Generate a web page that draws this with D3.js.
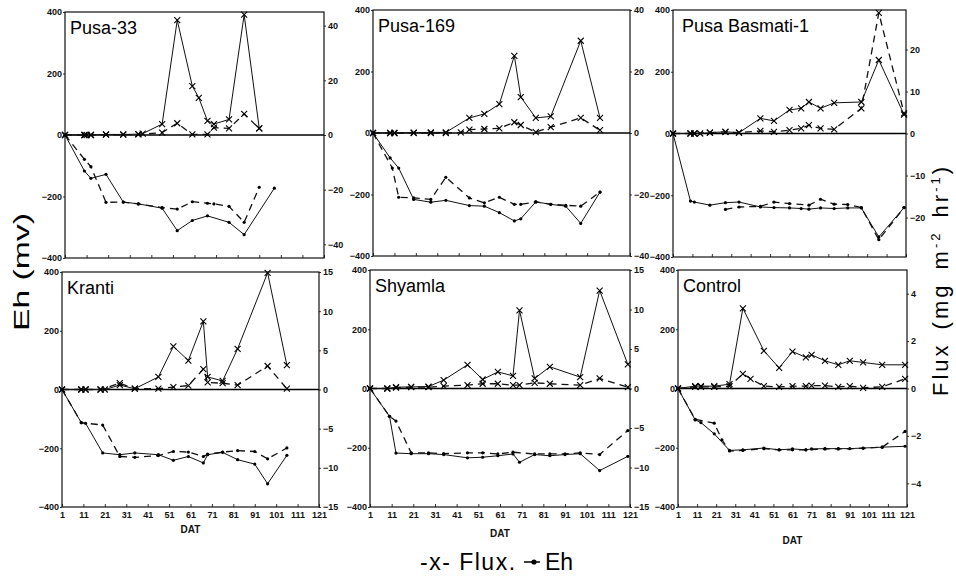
<!DOCTYPE html>
<html>
<head>
<meta charset="utf-8">
<style>
    body { margin: 0; background: #fff; }
    svg { font-family: "Liberation Sans", Arial, Helvetica, sans-serif; }
    .axis .domain { display: none; }
    .axis text { font-size: 9px; font-weight: bold; fill: #111; }
    .axis line { stroke: #333; }
    .frame { fill: none; stroke: #111; stroke-width: 1.2; }
    .title { font-size: 18px; fill: #000; }
    .dat { font-size: 10px; font-weight: bold; fill: #111; }
    .big { font-size: 22px; fill: #000; }
</style>
</head>
<body>
<svg width="956" height="578"></svg>

<script src="https://d3js.org/d3.v7.min.js"></script>
<script>
// tick values
let dayTicks = [1, 11, 21, 31, 41, 51, 61, 71, 81, 91, 101, 111, 121]
let ehTicks = [-400, -200, 0, 200, 400]

// [DAT, value] pairs. A = solid line, B = dashed line
let pusa33FluxA = [[1,0],[10,0],[11,0],[13,0],[20,0.2],[28,0.2],[35,0.3],[37,0.5],[46,4.0],[53,42],[60,17.9],[63,13.6],[67,5.2],[70,4.0],[77,5.7],[84,44],[91,2.4]]
let pusa33FluxB = [[1,0],[10,0],[13,0],[20,0.1],[28,0.1],[35,0.2],[46,0.9],[53,4.3],[60,0.2],[67,0.2],[70,2.7],[77,2.4],[84,7.7],[91,2.4]]
let pusa33EhA = [[1,0],[10,-117],[13,-141],[20,-128],[28,-218],[35,-224],[46,-238],[53,-311],[60,-278],[67,-263],[77,-284],[84,-324],[98,-173]]
let pusa33EhB = [[1,0],[10,-79],[13,-103],[20,-219],[28,-218],[35,-224],[46,-236],[53,-241],[60,-217],[67,-222],[70,-224],[77,-232],[84,-284],[91,-170]]

let pusa169FluxA = [[1,0],[9,0],[11,0],[20,0.1],[28,0.2],[35,0.2],[46,4.9],[53,6.2],[60,9.4],[67,25.1],[70,11.7],[77,4.9],[84,5.4],[98,30],[107,4.9]]
let pusa169FluxB = [[1,0],[9,0],[11,0],[20,0],[28,0],[35,0],[42,0.2],[46,1.1],[53,1.3],[60,1.5],[67,3.5],[70,2.6],[77,0.3],[84,1.9],[98,4.9],[107,0.9]]
let pusa169EhA = [[1,0],[9,-81],[13,-114],[20,-216],[28,-225],[35,-219],[46,-236],[53,-238],[60,-259],[67,-286],[70,-279],[77,-224],[84,-232],[91,-238],[98,-294],[107,-192]]
let pusa169EhB = [[1,0],[10,-114],[13,-209],[20,-211],[28,-216],[35,-144],[46,-211],[53,-227],[60,-209],[67,-232],[70,-232],[77,-224],[84,-232],[91,-235],[98,-238],[107,-192]]

let basmatiFluxA = [[1,0],[10,0],[12,0],[15,0],[20,0.2],[28,0.4],[35,0.2],[46,3.6],[53,3.0],[61,5.6],[67,6.0],[71,7.5],[77,6.0],[84,7.3],[98,7.5],[107,17.5],[120,4.5]]
let basmatiFluxB = [[1,0],[10,0],[12,0],[20,0.2],[28,0.4],[35,0.2],[46,0.6],[53,0.4],[61,0.8],[67,1.2],[71,2.0],[77,1.2],[84,1.0],[98,6.0],[107,28.7],[120,4.8]]
let basmatiEhA = [[1,0],[10,-219],[12,-222],[20,-232],[28,-224],[35,-222],[46,-238],[53,-240],[61,-241],[67,-243],[71,-245],[77,-241],[84,-243],[91,-241],[98,-241],[107,-335],[120,-240]]
let basmatiEhB = [[28,-246],[35,-238],[46,-236],[53,-222],[61,-227],[71,-232],[77,-213],[84,-229],[91,-230],[98,-240],[107,-344],[120,-240]]

let krantiFluxA = [[1,0],[10,0],[12,0],[19,0],[21,0],[28,0.56],[35,0.1],[46,1.6],[53,5.5],[60,3.7],[67,8.7],[69,1.6],[76,1.1],[83,5.2],[97,14.9],[106,3.1]]
let krantiFluxB = [[1,0],[10,0],[12,0],[19,0],[28,0.8],[35,0.1],[46,0.1],[53,0.3],[60,0.5],[67,2.6],[69,0.9],[76,0.8],[83,0.56],[97,3.0],[106,0.1]]
let krantiEhA = [[1,0],[10,-113],[12,-115],[20,-216],[28,-222],[35,-216],[46,-222],[53,-241],[60,-228],[67,-250],[69,-222],[76,-214],[83,-239],[91,-254],[97,-321],[106,-224]]
let krantiEhB = [[1,0],[10,-113],[20,-121],[28,-228],[35,-231],[46,-225],[53,-211],[60,-213],[67,-228],[69,-220],[76,-213],[83,-208],[91,-211],[97,-236],[106,-199]]

let shyamlaFluxA = [[1,0],[9,0],[13,0.17],[20,0.2],[28,0.25],[35,1.06],[46,3.0],[53,1.14],[60,2.1],[67,1.6],[70,9.9],[77,1.27],[84,2.75],[98,1.44],[107,12.4],[120,3.05]]
let shyamlaFluxB = [[1,0],[9,0],[13,0.1],[20,0.17],[28,0.17],[35,0.3],[46,0.42],[53,0.6],[60,0.6],[67,0.42],[70,0.42],[77,0.72],[84,0.6],[98,0.42],[107,1.27],[120,0.17]]
let shyamlaEhA = [[1,0],[10,-94],[13,-218],[20,-220],[28,-220],[35,-223],[46,-234],[53,-232],[60,-227],[67,-221],[70,-249],[77,-223],[84,-227],[91,-223],[98,-220],[107,-277],[120,-229]]
let shyamlaEhB = [[1,0],[10,-94],[13,-110],[20,-217],[28,-217],[35,-220],[46,-217],[53,-217],[60,-221],[67,-215],[77,-221],[84,-221],[91,-221],[98,-217],[107,-223],[120,-142]]

let controlFluxA = [[1,0],[10,0.1],[13,0.1],[20,0.1],[28,0.18],[35,3.38],[46,1.59],[54,0.87],[61,1.56],[68,1.31],[71,1.42],[78,1.17],[85,1.0],[91,1.17],[98,1.1],[108,1.0],[120,1.0]]
let controlFluxB = [[1,0],[10,0.07],[13,0.07],[20,0.07],[28,0.1],[35,0.62],[39,0.41],[46,0.1],[54,0.07],[61,0.1],[68,0.1],[71,0.12],[78,0.12],[85,0.07],[91,0.1],[98,0.03],[108,0.07],[120,0.41]]
let controlEhA = [[1,0],[10,-106],[13,-115],[20,-153],[28,-209],[35,-207],[46,-201],[54,-207],[61,-204],[68,-207],[71,-204],[78,-203],[85,-203],[91,-203],[98,-201],[108,-198],[120,-195]]
let controlEhB = [[1,0],[10,-104],[20,-117],[24,-173],[28,-211],[35,-209],[46,-203],[54,-207],[61,-207],[68,-207],[78,-204],[85,-204],[98,-202],[108,-198],[120,-145]]

let panels = [
    { name: "Pusa-33", fluxA: pusa33FluxA, fluxB: pusa33FluxB, ehA: pusa33EhA, ehB: pusa33EhB,
      fluxMax: 45, fluxTicks: [-40,-20,0,20,40], box: [65, 324, 12, 258], bottom: false },
    { name: "Pusa-169", fluxA: pusa169FluxA, fluxB: pusa169FluxB, ehA: pusa169EhA, ehB: pusa169EhB,
      fluxMax: 40, fluxTicks: [-40,-20,0,20,40], box: [373, 630, 10, 256], bottom: false },
    { name: "Pusa Basmati-1", fluxA: basmatiFluxA, fluxB: basmatiFluxB, ehA: basmatiEhA, ehB: basmatiEhB,
      fluxMax: 29.4, fluxTicks: [-20,-10,0,10,20], box: [673, 906, 10, 257], bottom: false },
    { name: "Kranti", fluxA: krantiFluxA, fluxB: krantiFluxB, ehA: krantiEhA, ehB: krantiEhB,
      fluxMax: 15, fluxTicks: [-15,-10,-5,0,5,10,15], box: [62, 319, 272, 507], bottom: true, datY: 533 },
    { name: "Shyamla", fluxA: shyamlaFluxA, fluxB: shyamlaFluxB, ehA: shyamlaEhA, ehB: shyamlaEhB,
      fluxMax: 15, fluxTicks: [-15,-10,-5,0,5,10,15], box: [370, 630, 270, 507], bottom: true, datY: 537 },
    { name: "Control", fluxA: controlFluxA, fluxB: controlFluxB, ehA: controlEhA, ehB: controlEhB,
      fluxMax: 5, fluxTicks: [-4,-2,0,2,4], box: [678, 907, 270, 507], bottom: true, datY: 544 }
]

let svg = d3.select("svg")

let cross = "M-3,-3L3,3M3,-3L-3,3"

panels.forEach(p => {
    let [x0, x1, y0, y1] = p.box
    let g = svg.append("g")

    let x = d3.scaleLinear().domain([1, 121]).range([x0, x1])
    let yEh = d3.scaleLinear().domain([-400, 400]).range([y1, y0])
    let yFlux = d3.scaleLinear().domain([-p.fluxMax, p.fluxMax]).range([y1, y0])

    // left axis (Eh)
    g.append("g")
        .attr("class", "axis")
        .attr("transform", `translate(${x0},0)`)
        .call(d3.axisLeft(yEh).tickValues(ehTicks).tickSize(2).tickPadding(1))

    // right axis (flux)
    g.append("g")
        .attr("class", "axis")
        .attr("transform", `translate(${x1},0)`)
        .call(d3.axisRight(yFlux).tickValues(p.fluxTicks).tickSize(2).tickPadding(2))

    // bottom axis, inner ticks
    let xAxis = d3.axisBottom(x).tickValues(dayTicks).tickSize(-3).tickPadding(5)
    if (!p.bottom) xAxis.tickFormat("")
    g.append("g")
        .attr("class", "axis")
        .attr("transform", `translate(0,${y1})`)
        .call(xAxis)

    g.append("rect")
        .attr("class", "frame")
        .attr("x", x0).attr("y", y0)
        .attr("width", x1 - x0).attr("height", y1 - y0)

    // zero line
    g.append("line")
        .attr("x1", x0).attr("x2", x1)
        .attr("y1", yEh(0)).attr("y2", yEh(0))
        .style("stroke", "#000")
        .style("stroke-width", 1.4)

    let fluxLine = d3.line().x(d => x(d[0])).y(d => yFlux(d[1]))
    let ehLine = d3.line().x(d => x(d[0])).y(d => yEh(d[1]))

    let series = [
        { data: p.ehA, line: ehLine, dash: null, mark: "dot", y: yEh },
        { data: p.ehB, line: ehLine, dash: "7,5", mark: "dot", y: yEh },
        { data: p.fluxA, line: fluxLine, dash: null, mark: "x", y: yFlux },
        { data: p.fluxB, line: fluxLine, dash: "7,5", mark: "x", y: yFlux }
    ]

    series.forEach(s => {
        g.append("path")
            .datum(s.data)
            .attr("d", s.line)
            .style("fill", "none")
            .style("stroke", "#111")
            .style("stroke-width", s.dash ? 1.3 : 1)
            .style("stroke-dasharray", s.dash)

        if (s.mark == "dot") {
            g.append("g").selectAll("circle")
                .data(s.data)
                .join("circle")
                .attr("cx", d => x(d[0]))
                .attr("cy", d => s.y(d[1]))
                .attr("r", 1.6)
                .style("fill", "#000")
        } else {
            g.append("g").selectAll("path")
                .data(s.data)
                .join("path")
                .attr("transform", d => `translate(${x(d[0])},${s.y(d[1])})`)
                .attr("d", cross)
                .style("stroke", "#000")
                .style("stroke-width", 1.1)
        }
    })

    g.append("text")
        .attr("class", "title")
        .attr("x", x0 + (p.name == "Pusa Basmati-1" ? 9 : 5))
        .attr("y", y0 + 22)
        .text(p.name)

    if (p.bottom) {
        g.append("text")
            .attr("class", "dat")
            .attr("x", (x0 + x1) / 2)
            .attr("y", p.datY)
            .attr("text-anchor", "middle")
            .text("DAT")
    }
})

// axis titles
svg.append("text")
    .attr("class", "big")
    .attr("transform", "translate(29,272) rotate(-90)")
    .attr("text-anchor", "middle")
    .attr("textLength", 118)
    .attr("lengthAdjust", "spacingAndGlyphs")
    .text("Eh (mv)")

let fluxTitle = svg.append("text")
    .attr("class", "big")
    .attr("transform", "translate(948,280) rotate(-90)")
    .attr("text-anchor", "middle")
    .style("letter-spacing", "3px")
    .style("word-spacing", "4px")
fluxTitle.append("tspan").text("Flux (mg m")
fluxTitle.append("tspan").attr("dy", -8).style("font-size", "13px").text("-2")
fluxTitle.append("tspan").attr("dy", 8).text(" hr")
fluxTitle.append("tspan").attr("dy", -8).style("font-size", "13px").text("-1")
fluxTitle.append("tspan").attr("dy", 8).text(")")

// legend
svg.append("text")
    .attr("class", "big")
    .attr("x", 420).attr("y", 570)
    .style("font-size", "23px")
    .style("letter-spacing", "1.5px")
    .text("-x- Flux.")
svg.append("line")
    .attr("x1", 524).attr("x2", 540)
    .attr("y1", 562).attr("y2", 562)
    .style("stroke", "#000").style("stroke-width", 1.5)
svg.append("circle")
    .attr("cx", 534).attr("cy", 562).attr("r", 2.6)
    .style("fill", "#000")
svg.append("text")
    .attr("class", "big")
    .attr("x", 545).attr("y", 570)
    .style("font-size", "23px")
    .text("Eh")
</script>
</body>
</html>
